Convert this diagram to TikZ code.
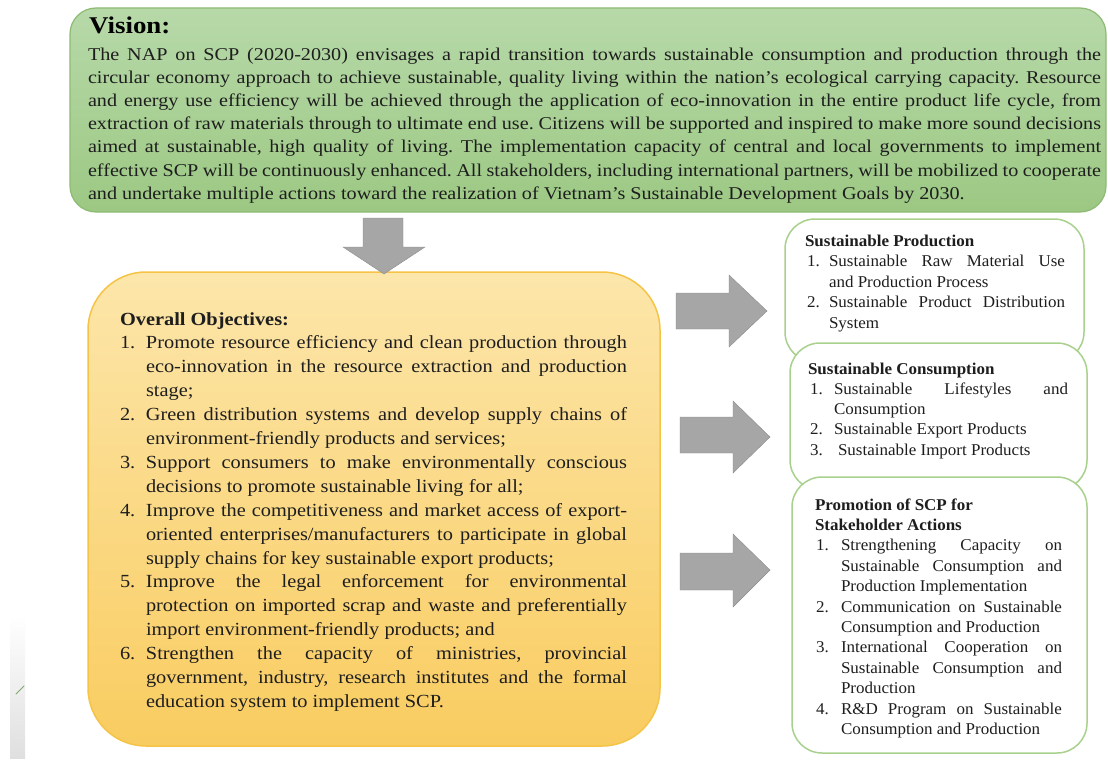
\documentclass[tikz,border=0pt]{standalone}
\usepackage{fontspec}
\setmainfont{Liberation Serif}
% slightly widened serif faces for the three text areas
\newfontfamily\visionfont[FakeStretch=1.12]{Liberation Serif}
\newfontfamily\objfont[FakeStretch=1.10]{Liberation Serif}
\newfontfamily\pillarfont[FakeStretch=1.03]{Liberation Serif}
\frenchspacing

\definecolor{visionTop}{HTML}{B7D9A9}
\definecolor{visionBot}{HTML}{9CC883}
\definecolor{visionEdge}{HTML}{8DBB73}
\definecolor{objTop}{HTML}{FCE6AA}
\definecolor{objBot}{HTML}{F9CC60}
\definecolor{objEdge}{HTML}{F5C447}
\definecolor{pillarEdge}{HTML}{A9D18E}
\definecolor{arrowGrey}{HTML}{A6A6A6}
\definecolor{inkText}{HTML}{1E1E1E}
\definecolor{leafGreen}{HTML}{7FA86B}

% numbered entry with a hanging indent: #1 indent, #2 label, #3 text
\newcommand{\numentry}[3]{\par\noindent\hangindent=#1\hangafter=1\makebox[#1][l]{#2}#3\par}

\begin{document}
\begin{tikzpicture}[x=1pt,y=-1pt,
  panel/.style={rectangle, inner sep=0pt, outer sep=0pt},
  visionbox/.style={panel, draw=visionEdge, line width=1.2pt,
    top color=visionTop, bottom color=visionBot, rounded corners=26pt},
  objbox/.style={panel, draw=objEdge, line width=1.5pt,
    top color=objTop, bottom color=objBot, rounded corners=58pt},
  pillarbox/.style={panel, draw=pillarEdge, line width=1.5pt,
    fill=white, rounded corners=30pt},
  blockarrow/.style={fill=arrowGrey, draw=arrowGrey!85!black, line width=0.4pt},
  bodytext/.style={anchor=base west, inner sep=0pt, outer sep=0pt,
    align=justify, text=inkText},
]
\useasboundingbox (0,0) rectangle (1108,760);
\fill[white] (0,0) rectangle (1108,760);

% photo fragment at the left edge
\shade[top color=white, bottom color=gray!25] (10,615) rectangle (25,758);
\draw[leafGreen, line width=1pt, line cap=round] (16,694) -- (24,686);

% ---------- Vision ----------
\node[visionbox, minimum width=1036pt, minimum height=204pt] (vision) at (588,110) {};
\node[anchor=base west, inner sep=0pt, text=black,
      font=\visionfont\bfseries\fontsize{24}{26}\selectfont] (visiontitle) at (89,34) {Vision:};
\node[bodytext, text width=1013pt, font=\visionfont\fontsize{18}{23.2}\selectfont]
  (visiontext) at (88,60) {%
The NAP on SCP (2020-2030) envisages a rapid transition towards sustainable consumption and production through the\linebreak
circular economy approach to achieve sustainable, quality living within the nation’s ecological carrying capacity. Resource\linebreak
and energy use efficiency will be achieved through the application of eco-innovation in the entire product life cycle, from\linebreak
extraction of raw materials through to ultimate end use. Citizens will be supported and inspired to make more sound decisions\linebreak
aimed at sustainable, high quality of living. The implementation capacity of central and local governments to implement\linebreak
effective SCP will be continuously enhanced. All stakeholders, including international partners, will be mobilized to cooperate\linebreak
and undertake multiple actions toward the realization of Vietnam’s Sustainable Development Goals by 2030.\par};

% ---------- Overall objectives ----------
\node[objbox, minimum width=572pt, minimum height=474pt] (objectives) at (374,509) {};
\node[bodytext, text width=507pt, font=\objfont\fontsize{18.5}{23.9}\selectfont]
  (objtext) at (120,325) {%
\textbf{Overall Objectives:}
\numentry{26pt}{1.}{Promote resource efficiency and clean production through\linebreak
eco-innovation in the resource extraction and production\linebreak stage;}
\numentry{26pt}{2.}{Green distribution systems and develop supply chains of\linebreak
environment-friendly products and services;}
\numentry{26pt}{3.}{Support consumers to make environmentally conscious\linebreak
decisions to promote sustainable living for all;}
\numentry{26pt}{4.}{Improve the competitiveness and market access of export-\linebreak
oriented enterprises/manufacturers to participate in global\linebreak
supply chains for key sustainable export products;}
\numentry{26pt}{5.}{Improve the legal enforcement for environmental\linebreak
protection on imported scrap and waste and preferentially\linebreak
import environment-friendly products; and}
\numentry{26pt}{6.}{Strengthen the capacity of ministries, provincial\linebreak
government, industry, research institutes and the formal\linebreak
education system to implement SCP.}};

% ---------- Pillar boxes ----------
\node[pillarbox, minimum width=299pt, minimum height=143pt] (production) at (934.5,290.5) {};
\node[pillarbox, minimum width=297pt, minimum height=147pt] (consumption) at (938.5,416.5) {};
\node[pillarbox, minimum width=295pt, minimum height=276pt] (promotion) at (939.5,615) {};

\node[bodytext, text width=260pt, font=\pillarfont\fontsize{16.5}{20.5}\selectfont]
  (productiontext) at (805,246) {%
\textbf{Sustainable Production}
\numentry{24pt}{\hspace*{2pt}1.}{Sustainable Raw Material Use\linebreak and Production Process}
\numentry{24pt}{\hspace*{2pt}2.}{Sustainable Product Distribution\linebreak System}};

\node[bodytext, text width=260pt, font=\pillarfont\fontsize{16.5}{20.3}\selectfont]
  (consumptiontext) at (808,374) {%
\textbf{Sustainable Consumption}
\numentry{26pt}{\hspace*{2pt}1.}{Sustainable Lifestyles and\linebreak Consumption}
\numentry{26pt}{\hspace*{2pt}2.}{Sustainable Export Products}
\numentry{26pt}{\hspace*{2pt}3.}{\hspace*{4pt}Sustainable Import Products}};

\node[bodytext, text width=247pt, font=\pillarfont\fontsize{16.5}{20.4}\selectfont]
  (promotiontext) at (815,510) {%
\textbf{Promotion of SCP for}\par
\textbf{Stakeholder Actions}
\numentry{26pt}{\hspace*{1pt}1.}{Strengthening Capacity on\linebreak Sustainable Consumption and\linebreak Production Implementation}
\numentry{26pt}{\hspace*{1pt}2.}{Communication on Sustainable\linebreak Consumption and Production}
\numentry{26pt}{\hspace*{1pt}3.}{International Cooperation on\linebreak Sustainable Consumption and\linebreak Production}
\numentry{26pt}{\hspace*{1pt}4.}{R\&D Program on Sustainable\linebreak Consumption and Production}};

% ---------- Block arrows ----------
% vision -> objectives
\draw[blockarrow] (363,218) -- (403,218) -- (403,247) -- (425,247) -- (384,274)
  -- (343,247) -- (363,247) -- cycle;
% objectives -> production
\draw[blockarrow] (676,293) -- (729,293) -- (729,275) -- (767,311) -- (729,347)
  -- (729,329) -- (676,329) -- cycle;
% objectives -> consumption
\draw[blockarrow] (680,417) -- (733,417) -- (733,401) -- (770,437) -- (733,473)
  -- (733,453) -- (680,453) -- cycle;
% objectives -> promotion
\draw[blockarrow] (680,553) -- (733,553) -- (733,534) -- (770,570) -- (733,607)
  -- (733,590) -- (680,590) -- cycle;
\end{tikzpicture}
\end{document}
